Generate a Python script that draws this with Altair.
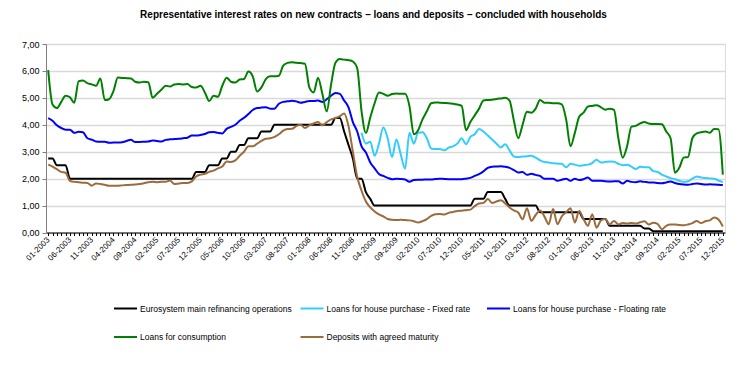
import altair as alt
import pandas as pd

# ---- data (monthly, 01-2003 .. 12-2015) ----
series_names = [
    "Eurosystem main refinancing operations",
    "Loans for house purchase - Fixed rate",
    "Loans for house purchase - Floating rate",
    "Loans for consumption",
    "Deposits with agreed maturity",
]
series_colors = ["#000000", "#33ccff", "#0000ff", "#008000", "#9c6b3c"]

start_year = 2003
n_months = 156

mro = ([2.75] * 2 + [2.5] * 3 + [2.0] * 29 + [2.25] * 3 + [2.5] * 3 + [2.75] * 2 + [3.0] * 2 +
       [3.25] * 2 + [3.5] * 3 + [3.75] * 3 + [4.0] * 14 + [4.25] * 2 +
       [3.75, 3.25, 2.75, 2.0, 2.0, 1.5, 1.25] + [1.0] * 23 + [1.25] * 3 + [1.5] * 4 + [1.25] +
       [1.0] * 7 + [0.75] * 10 + [0.5] * 6 + [0.25] * 8 + [0.15] * 2 + [0.05] * 17)

fixed = [None] * 72 + [
    3.7, 3.3, 3.37, 2.85, 3.3, 3.9, 3.5, 2.8, 3.45, 2.9, 2.37, 3.7,
    3.3, 3.7, 3.72, 3.5, 3.12, 3.1, 3.1, 3.05, 3.15, 3.2, 3.3, 3.5,
    3.28, 3.55, 3.65, 3.84, 3.75, 3.6, 3.45, 3.3, 3.16, 3.28, 3.05, 2.82,
    2.8, 2.82, 2.83, 2.85, 2.78, 2.68, 2.62, 2.6, 2.57, 2.56, 2.55, 2.42,
    2.55, 2.52, 2.48, 2.5, 2.52, 2.58, 2.7, 2.6, 2.62, 2.64, 2.63, 2.55,
    2.5, 2.52, 2.45, 2.36, 2.44, 2.42, 2.42, 2.28, 2.25, 2.15, 2.08, 2.02,
    1.98, 1.92, 1.88, 1.9, 2.0, 2.08, 2.04, 2.02, 2.01, 2.0, 1.93, 1.87,
]

floating = [
    4.25, 4.15, 3.98, 3.88, 3.82, 3.82, 3.7, 3.74, 3.72, 3.5, 3.45, 3.38,
    3.37, 3.37, 3.33, 3.34, 3.34, 3.35, 3.4, 3.44, 3.36, 3.36, 3.37, 3.38,
    3.42, 3.4, 3.38, 3.44, 3.46, 3.47, 3.48, 3.5, 3.52, 3.6, 3.6, 3.62,
    3.66, 3.72, 3.73, 3.7, 3.68, 3.85, 3.92, 4.0, 4.15, 4.26, 4.4, 4.55,
    4.62, 4.64, 4.65, 4.6, 4.6, 4.78, 4.85, 4.87, 4.89, 4.87, 4.82, 4.85,
    4.88, 4.88, 4.9, 4.85, 4.95, 5.08, 5.18, 5.15, 4.9, 4.65, 4.1, 3.75,
    3.2, 2.97, 2.6, 2.38, 2.17, 2.1, 2.03, 1.98, 2.0, 1.99, 1.97, 1.88,
    1.95, 1.96, 1.96, 1.97, 1.97, 1.99, 2.0, 1.99, 1.98, 1.98, 1.98, 1.98,
    2.0, 2.03, 2.1, 2.17, 2.27, 2.4, 2.44, 2.45, 2.46, 2.44, 2.4, 2.32,
    2.23, 2.25, 2.14, 2.18, 2.14, 2.1, 2.0, 2.0, 2.0, 1.92, 1.96, 2.0,
    1.92, 2.0, 1.95, 1.98, 2.04, 1.92, 1.92, 1.92, 1.9, 1.89, 1.9, 1.9,
    1.82, 1.92, 1.88, 1.87, 1.9, 1.88, 1.86, 1.86, 1.84, 1.83, 1.86, 1.89,
    1.84, 1.8, 1.78, 1.77, 1.8, 1.82, 1.8, 1.78, 1.79, 1.78, 1.77, 1.76,
]

consumption = [
    6.03, 4.75, 4.62, 4.85, 5.08, 5.02, 4.82, 5.62, 5.64, 5.55, 5.5, 5.45,
    5.72, 4.92, 4.95, 5.25, 5.76, 5.74, 5.73, 5.72, 5.6, 5.57, 5.6, 5.58,
    5.0, 5.15, 5.3, 5.45, 5.42, 5.5, 5.51, 5.5, 5.51, 5.4, 5.38, 5.45,
    5.2, 4.88, 5.08, 5.04, 5.45, 5.75, 5.6, 5.57, 5.68, 5.7, 5.98, 5.8,
    5.24, 5.39, 5.7, 5.8, 5.8, 5.82, 6.2, 6.3, 6.32, 6.3, 6.29, 6.27,
    5.39, 5.2, 5.75, 5.14, 4.5, 5.5, 6.3, 6.44, 6.42, 6.4, 6.35, 6.1,
    4.5, 3.7, 4.27, 4.8, 5.2, 5.15, 5.08, 5.14, 5.16, 5.15, 5.15, 4.7,
    3.65, 3.8, 4.2, 4.5, 4.8, 4.83, 4.82, 4.81, 4.8, 4.78, 4.75, 4.7,
    3.8, 4.1, 4.35, 4.6, 4.9, 4.92, 4.93, 4.96, 4.98, 5.0, 4.9, 4.15,
    3.5, 4.0, 4.48, 4.45, 4.6, 4.92, 4.82, 4.82, 4.8, 4.8, 4.76, 4.2,
    3.2, 3.7, 4.3, 4.45, 4.68, 4.7, 4.73, 4.65, 4.56, 4.6, 4.55, 3.5,
    2.78, 3.2, 3.93, 3.96, 4.05, 4.1, 4.05, 4.03, 4.03, 4.02, 3.75, 3.5,
    2.22, 2.4, 2.78, 2.8, 3.5, 3.68, 3.72, 3.75, 3.7, 3.84, 3.83, 2.15,
]

deposits = [
    2.52, 2.45, 2.35, 2.25, 2.22, 1.92, 1.88, 1.87, 1.85, 1.84, 1.74, 1.82,
    1.8, 1.77, 1.74, 1.74, 1.74, 1.75, 1.76, 1.77, 1.78, 1.8, 1.83, 1.87,
    1.88, 1.87, 1.88, 1.88, 1.93, 1.8, 1.82, 1.84, 1.84, 1.9, 2.08, 2.15,
    2.18, 2.25, 2.3, 2.38, 2.45, 2.64, 2.62, 2.68, 2.85, 3.0, 3.2, 3.2,
    3.3, 3.4, 3.48, 3.5, 3.55, 3.65, 3.78, 3.84, 3.85, 3.95, 4.0, 3.88,
    3.98, 4.05, 4.1, 3.98, 4.1, 4.2, 4.25, 4.32, 4.42, 3.95, 3.0, 2.07,
    1.55, 1.15, 0.93, 0.78, 0.67, 0.6, 0.5, 0.47, 0.46, 0.47, 0.46, 0.45,
    0.42, 0.37, 0.42, 0.5, 0.62, 0.68, 0.69, 0.67, 0.73, 0.76, 0.8, 0.81,
    0.83, 0.85, 0.98, 1.08, 1.1, 1.24, 1.1, 1.15, 1.2, 1.08, 0.93, 0.82,
    0.74, 0.49, 0.9, 0.43, 0.65, 0.82, 0.6, 0.31, 0.87, 0.31, 0.6, 0.75,
    0.9, 0.37, 0.8, 0.5, 0.25, 0.68, 0.18, 0.45, 0.5, 0.3, 0.43, 0.3,
    0.35, 0.33, 0.35, 0.33, 0.38, 0.42, 0.3, 0.36, 0.32, 0.12, 0.25, 0.3,
    0.3, 0.28, 0.27, 0.3, 0.35, 0.43, 0.35, 0.42, 0.45, 0.56, 0.48, 0.22,
]

y_ticks = [0, 1, 2, 3, 4, 5, 6, 7]

# ---- long table ----
rows = []
for name, vals in zip(series_names, [mro, fixed, floating, consumption, deposits]):
    for i, v in enumerate(vals):
        if v is not None:
            rows.append({"idx": i, "series": name, "value": v})
df = pd.DataFrame(rows)

FONT = "Liberation Sans"

x_label_expr = (
    "datum.value % 5 == 0 ? "
    "((((datum.value % 12) + 1) < 10 ? '0' : '') + ((datum.value % 12) + 1) + '-' + "
    f"({start_year} + floor(datum.value / 12))) : ''"
)

chart = (
    alt.Chart(df)
    .mark_line(strokeWidth=2, interpolate="monotone")
    .encode(
        x=alt.X(
            "idx:Q",
            scale=alt.Scale(domain=[-0.5, n_months - 0.5], nice=False, zero=False),
            axis=alt.Axis(
                title=None,
                values=list(range(n_months)),
                labelExpr=x_label_expr,
                labelOverlap=False,
                labelAngle=315,
                labelAlign="right",
                labelBaseline="middle",
                labelFontSize=8,
                labelFont=FONT,
                labelColor="#000000",
                labelPadding=3,
                tickSize=3,
                tickColor="#000000",
                domainColor="#000000",
                grid=False,
            ),
        ),
        y=alt.Y(
            "value:Q",
            scale=alt.Scale(domain=[0, 7], nice=False),
            axis=alt.Axis(
                title=None,
                values=y_ticks,
                labelExpr="replace(format(datum.value, '.2f'), '.', ',')",
                labelFontSize=9,
                labelFont=FONT,
                labelColor="#000000",
                labelPadding=3,
                tickSize=4,
                tickColor="#808080",
                domainColor="#808080",
                grid=True,
                gridColor="#d9d9d9",
                gridWidth=1.5,
            ),
        ),
        color=alt.Color(
            "series:N",
            scale=alt.Scale(domain=series_names, range=series_colors),
            legend=alt.Legend(
                title=None,
                orient="none",
                legendX=67,
                legendY=252,
                direction="horizontal",
                columns=3,
                gridAlign="all",
                columnPadding=2.5,
                rowPadding=11.5,
                symbolType="stroke",
                symbolSize=529,
                symbolStrokeWidth=2,
                labelOffset=2,
                labelFontSize=8.5,
                labelFont=FONT,
                labelColor="#000000",
                labelLimit=400,
            ),
        ),
    )
    .properties(
        width=679,
        height=188.5,
        padding={"left": 38, "top": 36, "right": 13, "bottom": 126},
        autosize=alt.AutoSizeParams(type="none"),
        title=alt.TitleParams(
            "Representative interest rates on new contracts \u2013 loans and deposits \u2013 concluded with households",
            fontSize=10,
            fontWeight="bold",
            font=FONT,
            color="#000000",
            anchor="middle",
            offset=20,
            dx=-12,
        ),
    )
    .configure_view(stroke="#909090", strokeWidth=1)
    .configure(background="#ffffff")
)

chart.save("out.html", embed_options={"renderer": "svg", "actions": False})
